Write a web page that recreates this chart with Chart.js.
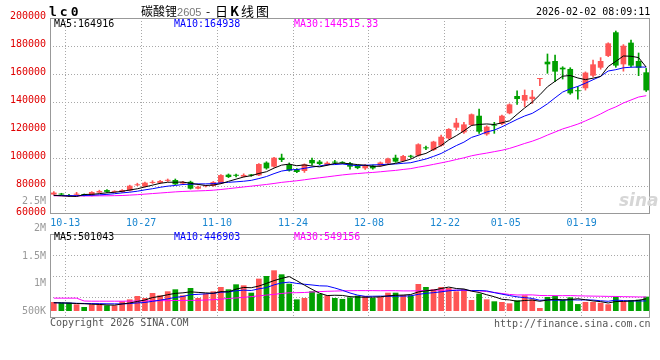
<!DOCTYPE html>
<html><head><meta charset="utf-8">
<script src="https://cdn.jsdelivr.net/npm/chart.js@4.4.1/dist/chart.umd.min.js"></script>
<style>
html,body{margin:0;padding:0;background:#fff;}
#wrap{position:relative;width:660px;height:360px;overflow:hidden;background:#fff;}
canvas{position:absolute;left:0;top:0;}
.t{position:absolute;white-space:pre;font-family:"DejaVu Sans Mono",monospace;font-size:10px;line-height:12px;color:#000;}
</style></head><body>
<div id="wrap">
<canvas id="pc" width="660" height="360"></canvas>
<canvas id="vc" width="660" height="360"></canvas>
<div class="t" style="left:49px;top:4px;font-size:13px;line-height:15px;font-weight:bold;letter-spacing:3px;">lc0</div>
<div class="t" style="left:141px;top:3px;font-family:'Noto Sans CJK SC';font-size:12px;line-height:16px;">碳酸锂<span style="color:#777;font-family:'Liberation Sans';font-size:11px;">2605</span></div>
<div class="t" style="left:206px;top:3px;font-family:'Noto Sans CJK SC';font-size:12px;line-height:16px;">-</div>
<div class="t" style="left:215px;top:3px;font-family:'Noto Sans CJK SC';font-size:13px;line-height:16px;letter-spacing:2px;">日<b>K</b>线图</div>
<div class="t" style="left:536px;top:6px;">2026-02-02 08:09:11</div>
<div class="t" style="left:54px;top:18px;">MA5:164916</div>
<div class="t" style="left:174px;top:18px;color:#0000ff;">MA10:164938</div>
<div class="t" style="left:294px;top:18px;color:#ff00ff;">MA30:144515.33</div>
<div class="t" style="left:54px;top:231px;">MA5:501043</div>
<div class="t" style="left:174px;top:231px;color:#0000ff;">MA10:446903</div>
<div class="t" style="left:294px;top:231px;color:#ff00ff;">MA30:549156</div>
<div class="t" style="left:50px;top:317px;color:#555;">Copyright 2026 SINA.COM</div>
<div class="t" style="left:494px;top:318px;color:#555;">http://finance.sina.com.cn</div>
<div class="t" style="left:619px;top:191px;font-family:'DejaVu Sans';font-size:17px;line-height:18px;font-style:italic;font-weight:bold;color:#d6d6d6;">sina</div>
</div>
<script>
const dates = ['10-10','10-13','10-14','10-15','10-16','10-17','10-20','10-21','10-22','10-23','10-24','10-27','10-28','10-29','10-30','10-31','11-03','11-04','11-05','11-06','11-07','11-10','11-11','11-12','11-13','11-14','11-17','11-18','11-19','11-20','11-21','11-24','11-25','11-26','11-27','11-28','12-01','12-02','12-03','12-04','12-05','12-08','12-09','12-10','12-11','12-12','12-15','12-16','12-17','12-18','12-19','12-22','12-23','12-24','12-25','12-26','12-29','12-30','12-31','01-05','01-06','01-07','01-08','01-09','01-12','01-13','01-14','01-15','01-16','01-19','01-20','01-21','01-22','01-23','01-26','01-27','01-28','01-29','01-30'];
const xTickLabels = ['10-13','10-27','11-10','11-24','12-08','12-22','01-05','01-19'];
const priceTicks = [60000,80000,100000,120000,140000,160000,180000,200000];
const volGridValues = [550000,1100000,1650000];
const volTickValues = [2500000,2000000,1500000,1000000,500000];

const open  = [73900,74200,73500,73800,73900,73100,75300,77100,75800,75700,76700,80500,79600,82200,82200,83700,84300,81700,83000,78100,79800,80000,81900,88100,87600,86700,87700,87600,96700,93800,100200,95000,91900,90700,98600,97400,95000,96900,96800,96200,94500,92600,94500,94500,96200,100200,97900,101200,101700,107200,105700,108800,114000,121700,118300,123600,130200,116900,123300,124300,131900,144300,141000,142100,156400,168800,169300,164500,163600,148000,149800,158800,164500,172900,189800,166900,182400,169300,161200];
const high  = [76000,74800,74000,75500,74300,76000,77000,77500,76600,77500,80600,82000,82800,83800,84000,85000,85000,83300,83500,79900,80500,83200,88200,88600,88600,88700,88300,96000,97300,100500,102800,96500,92400,95800,100000,98300,97300,98300,97400,96900,95000,95300,95000,97200,100000,102100,101900,102000,110200,108500,112000,116300,121000,128300,125500,131500,135000,123000,125500,130600,138700,147900,148600,148300,156500,174300,173600,165200,164500,151000,161500,170000,171700,182300,190700,181000,184300,175000,164000];
const low   = [73500,73300,72300,73000,72900,72900,75000,75500,75400,75400,76400,80200,79300,81800,81900,83200,81000,81300,77800,77900,79300,79700,81600,86000,86400,86400,86900,87300,92000,93500,97400,90600,89500,89700,94800,95200,94700,96000,95900,92000,92300,91800,92000,94000,95800,96900,97500,100200,101300,106000,105300,108400,113500,120000,117500,123000,117600,116200,117600,123800,131500,138300,136700,139000,151700,160500,154500,156400,145500,142100,148500,158000,163400,172400,164800,162000,165000,158800,147500];
const close = [75300,73900,72800,74300,73500,75700,76400,75800,76100,77100,80200,80900,82400,82500,83600,83900,81200,82900,78100,79500,80100,82800,87800,86400,87300,87900,87500,95700,92600,100200,98600,91000,90000,95500,96200,95700,96600,96700,96500,93800,92800,94500,92600,96800,99600,97400,101400,100900,109800,106900,111700,115200,120700,125200,124000,131200,118800,122400,123100,130200,138300,142100,145000,143800,156500,166900,161700,163300,146200,147700,161000,166900,169300,181900,166000,180200,166000,164500,148300];

const ma5  = [73300,73000,72700,72500,73960,74040,74540,75140,75500,76220,77120,78020,79340,80620,81920,82660,82720,82820,81940,81120,80360,80680,81660,83320,84880,86440,87380,88960,90200,92780,94920,95620,94480,95060,94260,93680,94800,96140,96340,95860,95280,94860,94040,94100,95260,96180,97560,99220,101820,103280,106140,108900,112860,115940,119360,123260,123980,124320,123900,125140,126560,131220,135740,139880,145140,150860,154780,158440,158920,157160,155980,157020,158220,165360,169020,172860,172680,171720,164916];
const ma10 = [73300,73200,73100,73100,73200,73400,73700,74000,74500,75090,75580,76280,77240,78060,79070,79890,80370,81080,81280,81520,81510,81700,82240,82630,83000,83400,84030,85310,86760,88830,90680,91500,91720,92630,93520,94300,95210,95310,95700,95060,94480,94830,95090,95220,95560,95730,96210,96630,97960,99270,101160,103230,106040,108880,111320,114700,116440,118590,119920,122250,124910,127600,130030,131890,135140,138710,143000,147090,149400,151150,153420,155900,158330,162140,163090,164420,164850,164970,164938];
const ma30 = [73000,73000,72900,72900,72900,72900,73000,73000,73100,73200,73500,73800,74200,74600,75000,75400,75800,76100,76300,76500,76700,77000,77500,78100,78700,79300,79900,80500,81100,81810,82590,83160,83730,84440,85200,85860,86540,87230,87910,88470,88890,89340,89680,90160,90690,91140,91820,92420,93470,94390,95440,96520,97620,98910,100130,101580,102620,103510,104530,105530,106850,108550,110390,112000,114010,116380,118550,120770,122430,124220,126500,128910,131470,134300,136520,139280,141430,143550,144515];

const volume = [419000,402000,402000,358000,288000,358000,375000,332000,332000,437000,488000,576000,524000,655000,594000,699000,751000,594000,785000,524000,637000,699000,812000,751000,882000,856000,663000,1031000,1100000,1249000,1144000,899000,488000,524000,699000,637000,594000,524000,500000,540000,585000,576000,524000,550000,663000,663000,603000,594000,891000,812000,751000,812000,785000,699000,751000,472000,637000,488000,437000,419000,384000,463000,594000,488000,262000,550000,576000,488000,541000,365000,420000,420000,400000,360000,560000,437000,470000,481000,559000];
const vma5  = [400000,395000,390000,380000,374000,362000,356000,342000,337000,367000,393000,433000,471000,536000,567000,610000,645000,659000,685000,671000,658000,648000,691000,685000,756000,800000,793000,837000,906000,980000,1037000,1085000,976000,861000,751000,649000,588000,596000,591000,559000,549000,545000,545000,555000,580000,595000,601000,615000,683000,713000,730000,772000,810000,772000,760000,704000,669000,609000,557000,491000,473000,438000,459000,470000,438000,471000,494000,473000,483000,504000,478000,447000,429000,393000,432000,435000,445000,462000,501043];
const vma10 = [400000,395000,390000,385000,380000,378000,375000,372000,370000,370000,377000,395000,407000,437000,467000,501000,539000,565000,610000,619000,634000,646000,675000,685000,713000,729000,720000,764000,796000,868000,919000,939000,906000,884000,865000,843000,837000,786000,726000,655000,599000,567000,570000,573000,569000,572000,573000,580000,619000,646000,663000,686000,712000,727000,736000,717000,720000,710000,664000,625000,588000,554000,534000,513000,464000,472000,466000,466000,477000,471000,475000,470000,451000,438000,468000,457000,446000,445000,446903];
const vma30 = [520000,520000,520000,520000,445000,440000,440000,440000,440000,440000,442000,445000,448000,450000,452000,455000,458000,460000,462000,463000,470000,480000,495000,510000,525000,540000,560000,580000,600000,619000,643000,660000,663000,668000,682000,691000,699000,705000,711000,714000,717000,717000,717000,714000,716000,715000,710000,710000,713000,723000,727000,731000,730000,728000,724000,711000,710000,692000,670000,642000,617000,602000,606000,605000,590000,587000,586000,585000,587000,581000,577000,573000,570000,566000,564000,559000,555000,552000,549156];

const UP = '#ff5555', DOWN = '#00a000', GRID = '#a8a8a8';
const MONO = "'DejaVu Sans Mono', monospace";
const bodies = dates.map((d, i) => [open[i], close[i]]);
const wicks = dates.map((d, i) => [low[i], high[i]]);
const colors = dates.map((d, i) => close[i] >= open[i] ? UP : DOWN);

const framePlugin = {
  id: 'frame',
  afterDraw(chart) {
    const {ctx, chartArea: a} = chart;
    ctx.save();
    ctx.strokeStyle = '#999';
    ctx.lineWidth = 1;
    ctx.setLineDash([]);
    ctx.strokeRect(Math.round(a.left) + 0.5, Math.round(a.top) + 0.5, Math.round(a.right - a.left) - 1, Math.round(a.bottom - a.top) - 1);
    ctx.restore();
  }
};
const xGridColor = (ctx) => {
  const i = ctx.index;
  if (typeof i === 'number' && i > 0 && i <= dates.length && xTickLabels.includes(dates[i - 1])) return GRID;
  return 'rgba(0,0,0,0)';
};
const lineDs = (data, color) => ({type: 'line', data, borderColor: color, borderWidth: 1, pointRadius: 0, tension: 0, fill: false, order: 0});

new Chart(document.getElementById('pc'), {
  type: 'bar',
  data: {
    labels: dates,
    datasets: [
      lineDs(ma5, '#000000'),
      lineDs(ma10, '#0000ff'),
      lineDs(ma30, '#ff00ff'),
      {data: bodies, backgroundColor: colors, borderWidth: 0, barPercentage: 0.75, categoryPercentage: 1, grouped: false, minBarLength: 1, order: 1},
      {data: wicks, backgroundColor: colors, borderWidth: 0, barThickness: 1, grouped: false, order: 2}
    ]
  },
  options: {
    responsive: false, animation: false, devicePixelRatio: 1,
    layout: {padding: {top: 18, right: 10, bottom: 126, left: 0}},
    plugins: {legend: {display: false}, tooltip: {enabled: false}},
    scales: {
      x: {
        grid: {offset: true, color: xGridColor, drawTicks: false},
        border: {display: false, dash: [1, 2]},
        ticks: {autoSkip: false, maxRotation: 0, minRotation: 0, color: '#1a86d0', font: {family: MONO, size: 10}, labelOffset: 3.8, padding: 3,
          callback: (v, i) => xTickLabels.includes(dates[i]) ? dates[i] : ''},
        afterFit(s) { s.height = 20; }
      },
      y: {
        min: 60000, max: 200000,
        afterBuildTicks(s) { s.ticks = priceTicks.map(v => ({value: v})); },
        grid: {color: (c) => (c.tick && (c.tick.value === 60000 || c.tick.value === 200000)) ? 'rgba(0,0,0,0)' : GRID, drawTicks: false},
        border: {display: false, dash: [1, 2]},
        ticks: {color: '#e00000', font: {family: MONO, size: 10}, padding: 4, labelOffset: -2, callback: (v) => String(v)},
        afterFit(s) { s.width = 50; }
      }
    }
  },
  plugins: [framePlugin]
});

const fmtVol = (v) => v >= 1000000 ? (v / 1000000) + 'M' : (v / 1000) + 'K';
new Chart(document.getElementById('vc'), {
  type: 'bar',
  data: {
    labels: dates,
    datasets: [
      lineDs(vma5, '#000000'),
      lineDs(vma10, '#0000ff'),
      lineDs(vma30, '#ff00ff'),
      {data: volume, backgroundColor: colors, borderWidth: 0, base: 183000, barPercentage: 0.75, categoryPercentage: 1, grouped: false, order: 1}
    ]
  },
  options: {
    responsive: false, animation: false, devicePixelRatio: 1,
    layout: {padding: {top: 234, right: 10, bottom: 42, left: 0}},
    plugins: {legend: {display: false}, tooltip: {enabled: false}},
    scales: {
      x: {
        grid: {offset: true, color: xGridColor, drawTicks: false},
        border: {display: false, dash: [1, 2]},
        ticks: {display: false, autoSkip: false},
        afterFit(s) { s.height = 0; }
      },
      y: {
        position: 'left', min: 0, max: 2200000,
        afterBuildTicks(s) { s.ticks = volGridValues.map(v => ({value: v})); },
        grid: {color: GRID, drawTicks: false},
        border: {display: false, dash: [1, 2]},
        ticks: {display: false},
        afterFit(s) { s.width = 0; }
      },
      yl: {
        position: 'left', min: 372727, max: 1900000,
        afterBuildTicks(s) { s.ticks = volTickValues.map(v => ({value: v})); },
        grid: {display: false, drawTicks: false},
        border: {display: false},
        ticks: {autoSkip: false, color: '#999999', font: {family: MONO, size: 10}, padding: 4, callback: (v) => fmtVol(v)},
        afterFit(s) { s.width = 50; }
      }
    }
  },
  plugins: [framePlugin]
});
</script>
</body></html>
